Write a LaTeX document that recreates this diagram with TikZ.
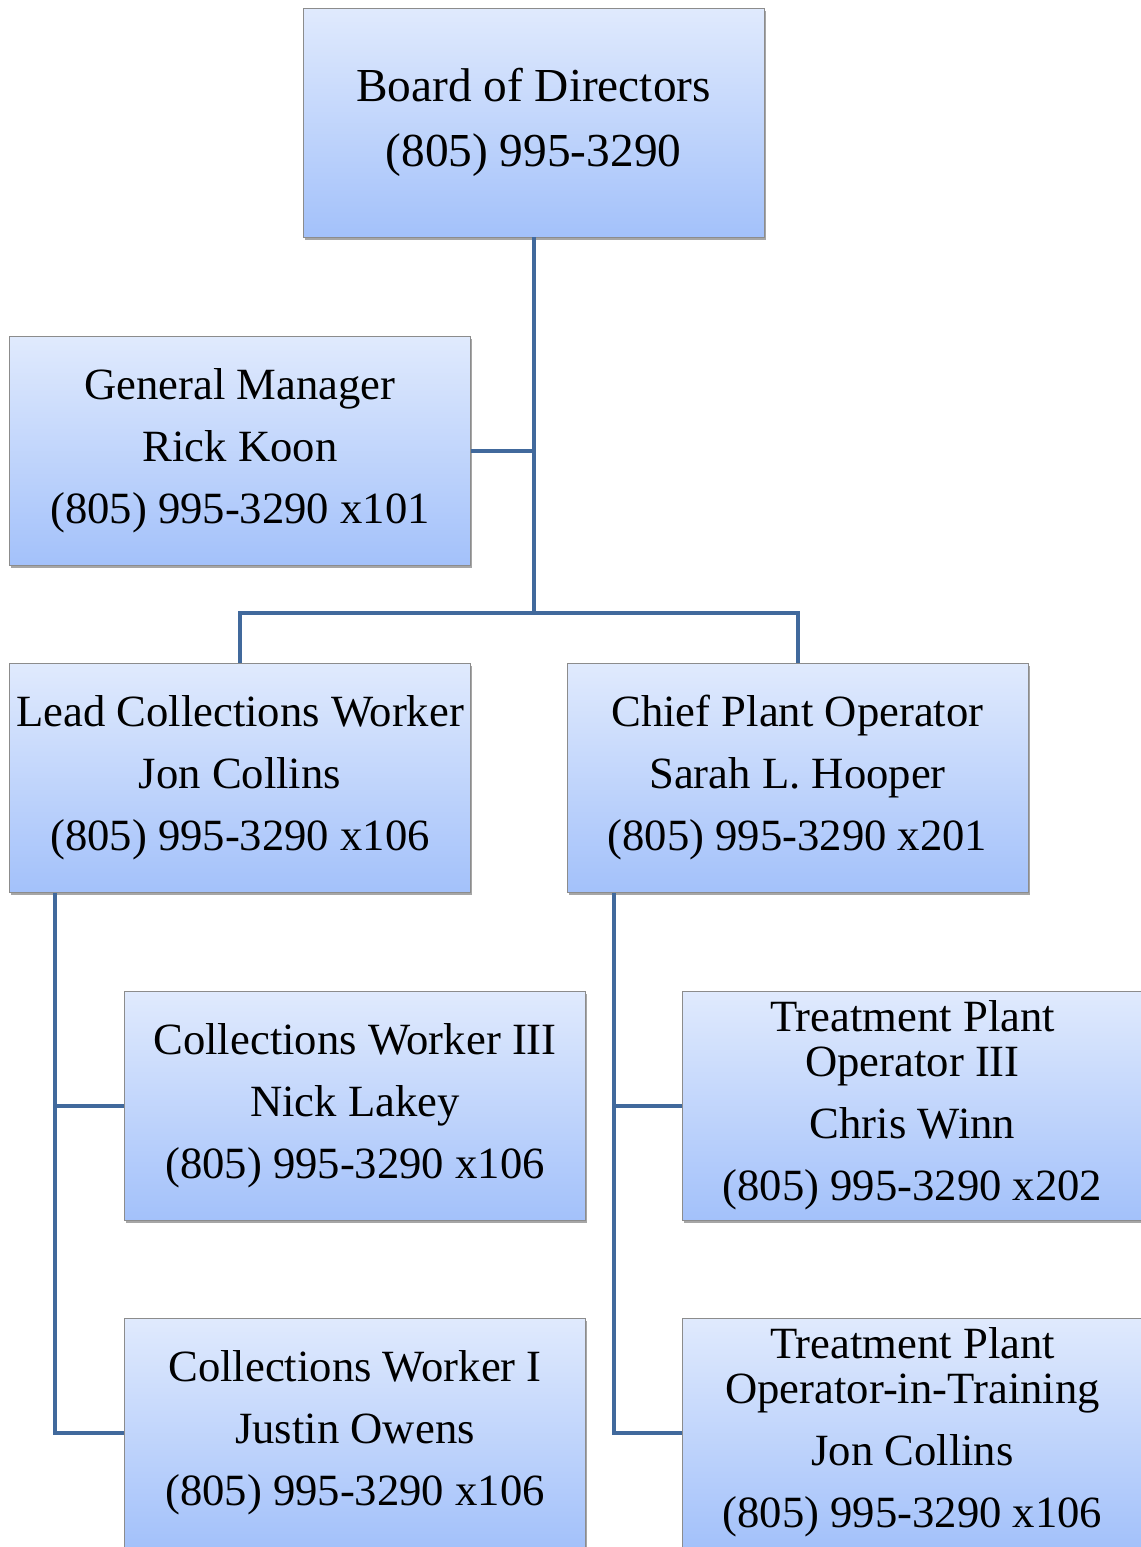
\documentclass[tikz,border=0pt]{standalone}
\usepackage{fontspec}
\setmainfont{Liberation Serif}
\usetikzlibrary{shadows}
\definecolor{conn}{HTML}{41699C}
\definecolor{boxtop}{HTML}{E0EAFD}
\definecolor{boxbot}{HTML}{A3C1FA}
\definecolor{boxedge}{HTML}{8C8C8C}
\begin{document}
\begin{tikzpicture}[x=0.75pt,y=-0.75pt,
  orgbox/.style={draw=boxedge, line width=0.6pt, top color=boxtop, bottom color=boxbot,
    minimum width=345.75pt, minimum height=171.75pt, inner sep=0pt, text width=340pt,
    align=flush center, font=\fontsize{33.5}{46.5}\selectfont,
    drop shadow={shadow xshift=1.2pt, shadow yshift=-2.2pt, opacity=0.35, fill=black}},
  link/.style={draw=conn, line width=3pt}]
\useasboundingbox (0,0) rectangle (1141,1547);
\clip (0,0) rectangle (1141,1547);
\node[orgbox, font=\fontsize{35.5}{48.75}\selectfont] (board) at (533.5,122.5) {Board of Directors\\(805) 995-3290};
\node[orgbox] (gm) at (240,451) {General Manager\\Rick Koon\\(805) 995-3290 x101};
\node[orgbox] (lead) at (240,778) {Lead Collections Worker\\Jon Collins\\(805) 995-3290 x106};
\node[orgbox] (chief) at (797.5,778) {Chief Plant Operator\\Sarah L. Hooper\\(805) 995-3290 x201};
\node[orgbox] (cw3) at (355,1105.5) {Collections Worker III\\Nick Lakey\\(805) 995-3290 x106};
\node[orgbox] (cw1) at (355,1432.5) {Collections Worker I\\Justin Owens\\(805) 995-3290 x106};
\node[orgbox] (tpo3) at (912.5,1105.5) {Treatment Plant\\[-12.75pt]Operator III\\Chris Winn\\(805) 995-3290 x202};
\node[orgbox] (tpoit) at (912.5,1432.5) {Treatment Plant\\[-12.75pt]Operator-in-Training\\Jon Collins\\(805) 995-3290 x106};
\coordinate (j) at (533.5,613);
\draw[link] (board.south) -- (j);
\draw[link] (gm.east) -- (gm.east -| j);
\draw[link] (lead.north) |- (j) -| (chief.north);
\draw[link] ([xshift=34.5pt]lead.south west) |- (cw3.west);
\draw[link] ([xshift=34.5pt]lead.south west) |- (cw1.west);
\draw[link] ([xshift=35.25pt]chief.south west) |- (tpo3.west);
\draw[link] ([xshift=35.25pt]chief.south west) |- (tpoit.west);
\end{tikzpicture}
\end{document}
